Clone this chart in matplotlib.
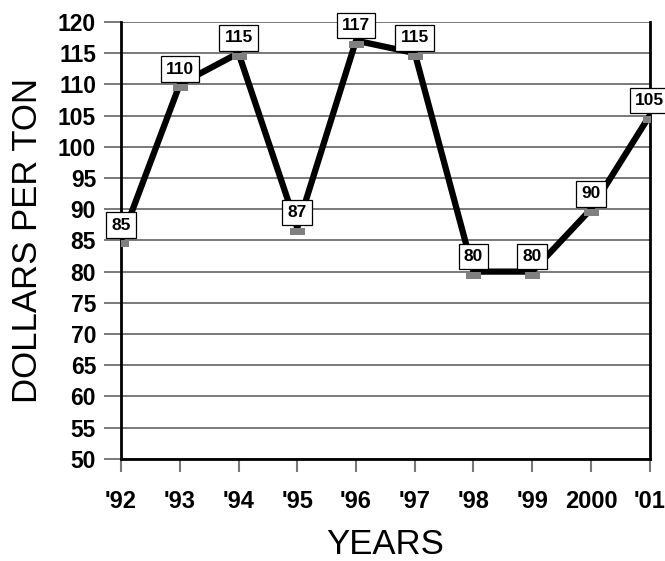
import matplotlib.pyplot as plt
from matplotlib.path import Path
from matplotlib.markers import MarkerStyle

plt.rcParams['font.family'] = ['Liberation Sans', 'DejaVu Sans']

years = ["'92", "'93", "'94", "'95", "'96", "'97", "'98", "'99", "2000", "'01"]
prices = [85, 110, 115, 87, 117, 115, 80, 80, 90, 105]
y_ticks = list(range(50, 121, 5))

fig = plt.figure(figsize=(6.65, 5.61), dpi=100)
ax = fig.add_axes([0.182, 0.182, 0.795, 0.779])

x = list(range(len(years)))

# grey rectangle hanging just below each value
hang = MarkerStyle(Path([(-1, 0), (1, 0), (1, -0.95), (-1, -0.95), (-1, 0)],
                        [Path.MOVETO, Path.LINETO, Path.LINETO, Path.LINETO, Path.CLOSEPOLY]))

ax.plot(x, prices, color='black', lw=4.5, zorder=3, solid_joinstyle='round')
ax.plot(x, prices, ls='none', marker=hang, markersize=10.8,
        markerfacecolor='#808080', markeredgecolor='#808080', markeredgewidth=0,
        zorder=4)

for xi, v in zip(x, prices):
    ax.annotate(str(v), (xi, v), xytext=(0, 11), textcoords='offset points',
                ha='center', va='center', fontsize=12.5, fontweight='bold',
                bbox=dict(boxstyle='square,pad=0.3', fc='white', ec='black', lw=0.9),
                zorder=5, annotation_clip=False)

ax.set_xlim(0, len(years) - 1)
ax.set_ylim(50, 120)
ax.set_xticks(x)
ax.set_xticklabels(years, fontsize=17, fontweight='bold')
ax.set_yticks(y_ticks)
ax.set_yticklabels([str(t) for t in y_ticks], fontsize=16.5, fontweight='bold')

ax.yaxis.grid(True, color='#555555', lw=1.1, zorder=1)
ax.tick_params(axis='y', length=12, width=1.1, color='#555555', pad=6)
ax.tick_params(axis='x', length=9.5, width=1.5, color='#777777', pad=13)

ax.spines['top'].set_visible(False)
for side in ['left', 'bottom', 'right']:
    ax.spines[side].set_linewidth(2)
    ax.spines[side].set_color('black')

ax.set_ylabel('DOLLARS PER TON', fontsize=25, labelpad=10)
ax.set_xlabel('YEARS', fontsize=25, labelpad=11)

fig.savefig('out.png', dpi=100)
